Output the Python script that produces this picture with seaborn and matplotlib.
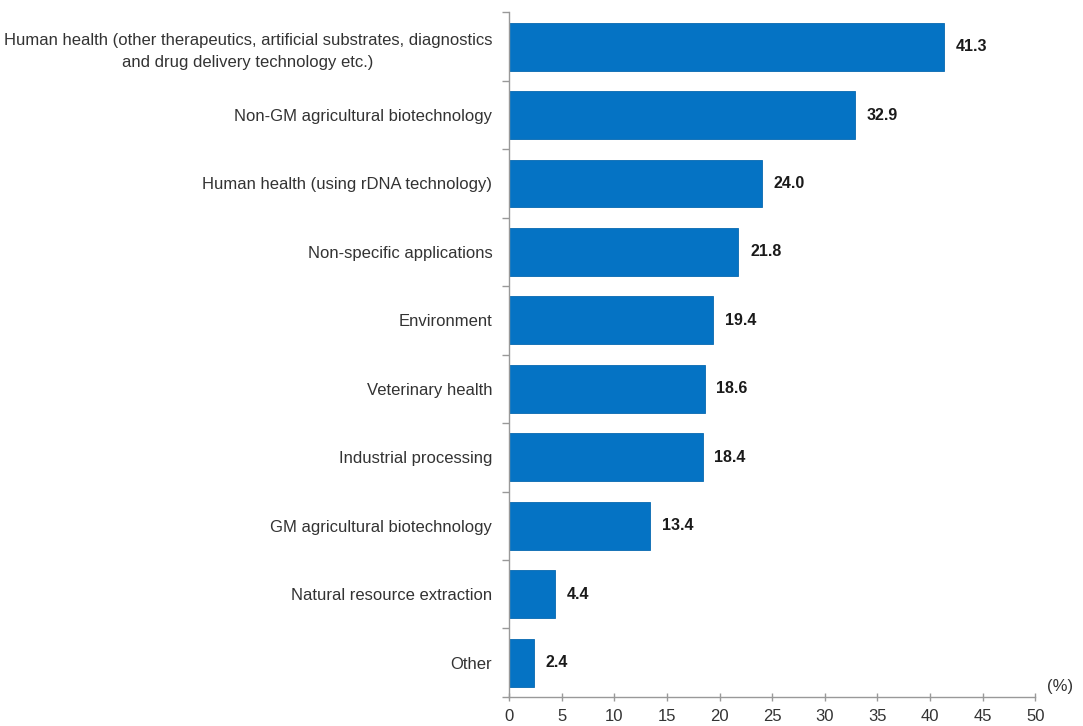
import matplotlib
matplotlib.use("Agg")
import matplotlib.pyplot as plt
import seaborn as sns
import pandas as pd
import numpy as np

categories = [
    "Human health (other therapeutics, artificial substrates, diagnostics\nand drug delivery technology etc.)",
    "Non-GM agricultural biotechnology",
    "Human health (using rDNA technology)",
    "Non-specific applications",
    "Environment",
    "Veterinary health",
    "Industrial processing",
    "GM agricultural biotechnology",
    "Natural resource extraction",
    "Other",
]
values = [41.3, 32.9, 24.0, 21.8, 19.4, 18.6, 18.4, 13.4, 4.4, 2.4]
x_ticks = [0, 5, 10, 15, 20, 25, 30, 35, 40, 45, 50]

sns.set_theme(style="white")
plt.rcParams["font.family"] = ["Liberation Sans", "DejaVu Sans"]

df = pd.DataFrame({"category": categories, "value": values})

fig = plt.figure(figsize=(10.83, 7.26), dpi=100)
ax = fig.add_axes([0.470, 0.040, 0.486, 0.943])

sns.barplot(data=df, y="category", x="value", orient="h", color="#0573C4",
            width=0.7, ax=ax, saturation=1, edgecolor="#0668B0", linewidth=0.6)

for i, v in enumerate(values):
    ax.text(v + 1.1, i, f"{v:.1f}", va="center", ha="left",
            fontsize=11.5, fontweight="bold", color="#1a1a1a")

ax.set_xlim(0, 50)
ax.set_ylim(len(categories) - 0.5, -0.5)
ax.set_xticks(x_ticks)
ax.set_xticklabels([str(t) for t in x_ticks], fontsize=12, color="#333333")
ax.set_ylabel("")
ax.set_xlabel("")
ax.tick_params(axis="y", length=0, pad=12, labelsize=12, labelcolor="#333333")
ax.set_yticks(np.arange(-0.5, len(categories), 1), minor=True)
ax.tick_params(axis="y", which="minor", length=5, color="#999999", width=1, direction="out", left=True)
ax.tick_params(axis="x", length=6, direction="inout", color="#999999", width=1, bottom=True, pad=6)
for lbl in ax.get_yticklabels():
    lbl.set_horizontalalignment("right")
    lbl.set_multialignment("center")
    lbl.set_linespacing(1.6)

for s in ["top", "right"]:
    ax.spines[s].set_visible(False)
for s in ["left", "bottom"]:
    ax.spines[s].set_color("#999999")
    ax.spines[s].set_linewidth(1)

ax.text(1.047, 0.005, "(%)", transform=ax.transAxes, fontsize=12, color="#333333",
        ha="center", va="bottom")

fig.savefig("out.png", dpi=100)
